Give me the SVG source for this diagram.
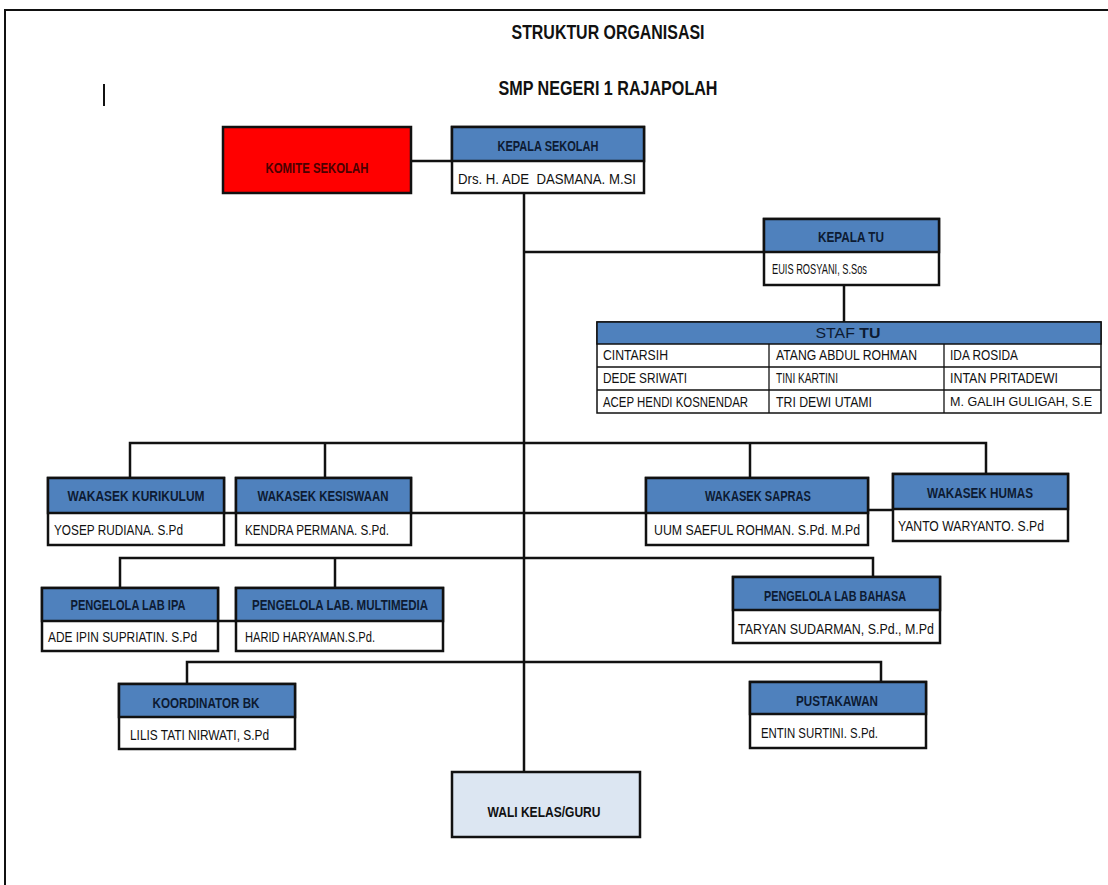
<svg xmlns="http://www.w3.org/2000/svg" width="1108" height="885" viewBox="0 0 1108 885">
<style>
.box{fill:#fff;stroke:#111;stroke-width:2.5}
.hd{fill:#4F81BD;stroke:#111;stroke-width:2.5}
.ln{stroke:#111;stroke-width:2.5;fill:none}
.tl{stroke:#111;stroke-width:1.3;fill:none}
.ht{font-family:"Liberation Sans",Arial,sans-serif;font-weight:bold;font-size:14.5px;fill:#0d1b33;text-anchor:middle;dominant-baseline:central}
.bt{font-family:"Liberation Sans",Arial,sans-serif;font-size:14.5px;fill:#111;dominant-baseline:central}
.title{font-family:"Liberation Sans",Arial,sans-serif;font-weight:bold;font-size:20px;fill:#111;text-anchor:middle;dominant-baseline:central}
</style>
<rect x="0" y="0" width="1108" height="885" fill="#fff"/>
<g id="frame">
<line x1="4" y1="10" x2="1108" y2="10" stroke="#111" stroke-width="2"/>
<line x1="5" y1="10" x2="5" y2="885" stroke="#111" stroke-width="2"/>
<line x1="104" y1="84" x2="104" y2="106" stroke="#111" stroke-width="2"/>
</g>
<g id="titles">
<text class="title" x="608" y="32" textLength="193" lengthAdjust="spacingAndGlyphs">STRUKTUR ORGANISASI</text>
<text class="title" x="608" y="88" textLength="219" lengthAdjust="spacingAndGlyphs">SMP NEGERI 1 RAJAPOLAH</text>
</g>
<g id="connectors">
<line class="ln" x1="411" y1="161" x2="452" y2="161"/>
<line class="ln" x1="524" y1="193" x2="524" y2="772"/>
<line class="ln" x1="524" y1="252" x2="764" y2="252"/>
<line class="ln" x1="844" y1="285" x2="844" y2="322"/>
<polyline class="ln" points="130,478 130,443 986,443 986,474"/>
<line class="ln" x1="325" y1="443" x2="325" y2="478"/>
<line class="ln" x1="750" y1="443" x2="750" y2="478"/>
<line class="ln" x1="224" y1="513" x2="236" y2="513"/>
<line class="ln" x1="411" y1="513" x2="646" y2="513"/>
<line class="ln" x1="868" y1="510" x2="893" y2="510"/>
<polyline class="ln" points="120,588 120,558 873,558 873,577"/>
<line class="ln" x1="335" y1="558" x2="335" y2="588"/>
<line class="ln" x1="218" y1="621" x2="236" y2="621"/>
<polyline class="ln" points="187,684 187,662 881,662 881,682"/>
</g>
<g id="komite">
<rect x="223" y="127" width="188" height="66" fill="#FF0000" stroke="#111" stroke-width="2.5"/>
<text class="ht" x="317" y="168" textLength="103" lengthAdjust="spacingAndGlyphs" style="fill:#4a0000">KOMITE SEKOLAH</text>
</g>
<g id="kepala-sekolah">
<rect class="box" x="452" y="127" width="192" height="66"/>
<rect class="hd" x="452" y="127" width="192" height="34"/>
<text class="ht" x="548" y="146" textLength="101" lengthAdjust="spacingAndGlyphs">KEPALA SEKOLAH</text>
<text class="bt" x="458" y="179" textLength="178" lengthAdjust="spacingAndGlyphs" xml:space="preserve">Drs. H. ADE  DASMANA. M.SI</text>
</g>
<g id="kepala-tu">
<rect class="box" x="764" y="219" width="175" height="66"/>
<rect class="hd" x="764" y="219" width="175" height="33"/>
<text class="ht" x="851" y="237" textLength="66" lengthAdjust="spacingAndGlyphs">KEPALA TU</text>
<text class="bt" x="772" y="269" textLength="95" lengthAdjust="spacingAndGlyphs">EUIS ROSYANI, S.Sos</text>
</g>
<g id="staf-tu">
<rect x="597" y="322" width="504" height="91" fill="#fff" stroke="#111" stroke-width="1.5"/>
<rect x="597" y="322" width="504" height="22" fill="#4F81BD" stroke="#111" stroke-width="1.5"/>
<line class="tl" x1="597" y1="367" x2="1101" y2="367"/>
<line class="tl" x1="597" y1="390" x2="1101" y2="390"/>
<line class="tl" x1="769" y1="344" x2="769" y2="413"/>
<line class="tl" x1="944" y1="344" x2="944" y2="413"/>
<text class="bt" x="848" y="333" text-anchor="middle" textLength="65" lengthAdjust="spacingAndGlyphs" style="fill:#0d1b33">STAF <tspan font-weight="bold">TU</tspan></text>
<text class="bt" x="603" y="355" textLength="65" lengthAdjust="spacingAndGlyphs">CINTARSIH</text>
<text class="bt" x="776" y="355" textLength="141" lengthAdjust="spacingAndGlyphs">ATANG ABDUL ROHMAN</text>
<text class="bt" x="950" y="355" textLength="68" lengthAdjust="spacingAndGlyphs">IDA ROSIDA</text>
<text class="bt" x="603" y="378" textLength="84" lengthAdjust="spacingAndGlyphs">DEDE SRIWATI</text>
<text class="bt" x="776" y="378" textLength="62" lengthAdjust="spacingAndGlyphs">TINI KARTINI</text>
<text class="bt" x="950" y="378" textLength="108" lengthAdjust="spacingAndGlyphs">INTAN PRITADEWI</text>
<text class="bt" x="603" y="402" textLength="145" lengthAdjust="spacingAndGlyphs">ACEP HENDI KOSNENDAR</text>
<text class="bt" x="776" y="402" textLength="96" lengthAdjust="spacingAndGlyphs">TRI DEWI UTAMI</text>
<text class="bt" x="950" y="402" textLength="142" lengthAdjust="spacingAndGlyphs" style="font-size:12.5px">M. GALIH GULIGAH, S.E</text>
</g>
<g id="wakasek-kurikulum">
<rect class="box" x="48" y="478" width="176" height="67"/>
<rect class="hd" x="48" y="478" width="176" height="35"/>
<text class="ht" x="136" y="496" textLength="137" lengthAdjust="spacingAndGlyphs">WAKASEK KURIKULUM</text>
<text class="bt" x="54" y="530" textLength="129" lengthAdjust="spacingAndGlyphs">YOSEP RUDIANA. S.Pd</text>
</g>
<g id="wakasek-kesiswaan">
<rect class="box" x="236" y="478" width="175" height="67"/>
<rect class="hd" x="236" y="478" width="175" height="35"/>
<text class="ht" x="323" y="496" textLength="131" lengthAdjust="spacingAndGlyphs">WAKASEK KESISWAAN</text>
<text class="bt" x="245" y="530" textLength="144" lengthAdjust="spacingAndGlyphs">KENDRA PERMANA. S.Pd.</text>
</g>
<g id="wakasek-sapras">
<rect class="box" x="646" y="478" width="222" height="67"/>
<rect class="hd" x="646" y="478" width="222" height="35"/>
<text class="ht" x="758" y="496" textLength="106" lengthAdjust="spacingAndGlyphs">WAKASEK SAPRAS</text>
<text class="bt" x="654" y="530" textLength="206" lengthAdjust="spacingAndGlyphs">UUM SAEFUL ROHMAN. S.Pd. M.Pd</text>
</g>
<g id="wakasek-humas">
<rect class="box" x="893" y="474" width="175" height="67"/>
<rect class="hd" x="893" y="474" width="175" height="35"/>
<text class="ht" x="980" y="493" textLength="106" lengthAdjust="spacingAndGlyphs">WAKASEK HUMAS</text>
<text class="bt" x="898" y="526" textLength="146" lengthAdjust="spacingAndGlyphs">YANTO WARYANTO. S.Pd</text>
</g>
<g id="lab-ipa">
<rect class="box" x="42" y="588" width="176" height="63"/>
<rect class="hd" x="42" y="588" width="176" height="33"/>
<text class="ht" x="128" y="605" textLength="115" lengthAdjust="spacingAndGlyphs">PENGELOLA LAB IPA</text>
<text class="bt" x="48" y="637" textLength="149" lengthAdjust="spacingAndGlyphs">ADE IPIN SUPRIATIN. S.Pd</text>
</g>
<g id="lab-multimedia">
<rect class="box" x="236" y="588" width="207" height="63"/>
<rect class="hd" x="236" y="588" width="207" height="33"/>
<text class="ht" x="340" y="605" textLength="176" lengthAdjust="spacingAndGlyphs">PENGELOLA LAB. MULTIMEDIA</text>
<text class="bt" x="245" y="637" textLength="130" lengthAdjust="spacingAndGlyphs">HARID HARYAMAN.S.Pd.</text>
</g>
<g id="lab-bahasa">
<rect class="box" x="733" y="577" width="207" height="66"/>
<rect class="hd" x="733" y="577" width="207" height="33"/>
<text class="ht" x="835" y="596" textLength="142" lengthAdjust="spacingAndGlyphs">PENGELOLA LAB BAHASA</text>
<text class="bt" x="738" y="629" textLength="196" lengthAdjust="spacingAndGlyphs">TARYAN SUDARMAN, S.Pd., M.Pd</text>
</g>
<g id="koordinator-bk">
<rect class="box" x="119" y="684" width="176" height="65"/>
<rect class="hd" x="119" y="684" width="176" height="33"/>
<text class="ht" x="206" y="703" textLength="107" lengthAdjust="spacingAndGlyphs">KOORDINATOR BK</text>
<text class="bt" x="130" y="735" textLength="139" lengthAdjust="spacingAndGlyphs">LILIS TATI NIRWATI, S.Pd</text>
</g>
<g id="pustakawan">
<rect class="box" x="750" y="682" width="176" height="66"/>
<rect class="hd" x="750" y="682" width="176" height="32"/>
<text class="ht" x="837" y="701" textLength="82" lengthAdjust="spacingAndGlyphs">PUSTAKAWAN</text>
<text class="bt" x="761" y="733" textLength="117" lengthAdjust="spacingAndGlyphs">ENTIN SURTINI. S.Pd.</text>
</g>
<g id="wali-kelas">
<rect x="452" y="772" width="188" height="65" fill="#DCE6F2" stroke="#111" stroke-width="2.5"/>
<text class="ht" x="544" y="812" textLength="113" lengthAdjust="spacingAndGlyphs" style="fill:#111">WALI KELAS/GURU</text>
</g>
</svg>
